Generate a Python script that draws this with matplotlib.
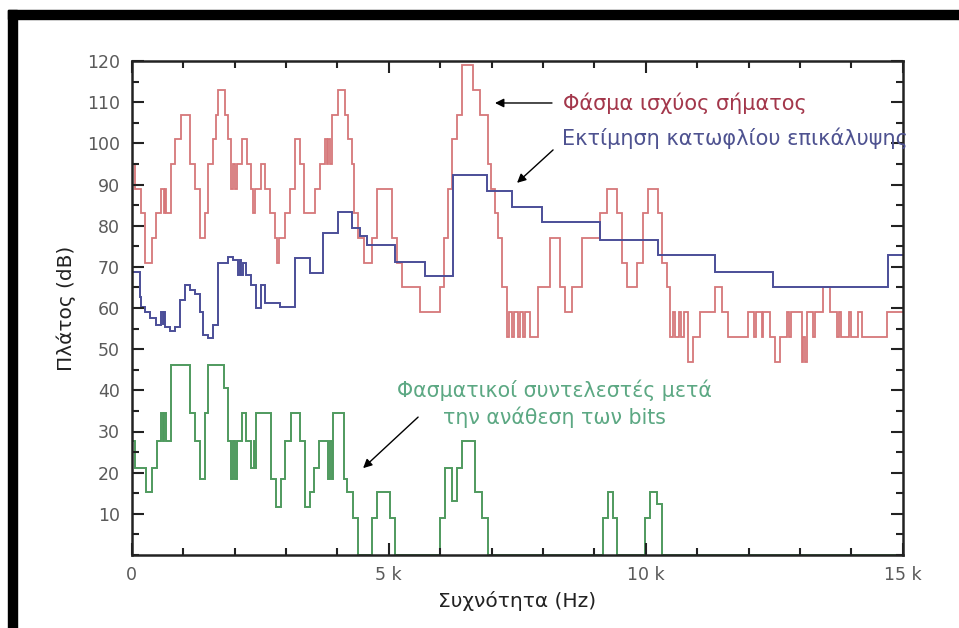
import matplotlib
matplotlib.use("Agg")
import matplotlib.pyplot as plt
from matplotlib.patches import Rectangle
from matplotlib.ticker import MultipleLocator, FixedLocator

# --- DATA (step start frequency in Hz, level in dB) ---
RED_HZ = [0, 71, 174, 265, 395, 479, 577, 620, 640, 674, 758, 836, 953, 1128, 1225,
          1322, 1432, 1484, 1582, 1647, 1679, 1809, 1874, 1938, 1980, 2010, 2055,
          2152, 2243, 2327, 2360, 2400, 2523, 2600, 2684, 2781, 2834, 2870, 2989,
          3080, 3177, 3268, 3352, 3560, 3657, 3754, 3790, 3820, 3850, 3890, 4020,
          4150, 4202, 4280, 4332, 4410, 4526, 4669, 4767, 5058, 5156, 5253, 5610,
          6000, 6084, 6161, 6239, 6323, 6433, 6647, 6777, 6926, 6991, 7069, 7134,
          7199, 7296, 7340, 7400, 7440, 7510, 7550, 7620, 7660, 7750, 7911,
          8138, 8333, 8430, 8560, 8754, 9111, 9241, 9436, 9533, 9630, 9825, 9955,
          10052, 10247, 10312, 10409, 10474, 10530, 10570, 10640, 10680, 10750,
          10830, 10927, 11057, 11350, 11478, 11608, 11990, 12110, 12140, 12260,
          12290, 12410, 12516, 12613, 12743, 12790, 12830, 13035, 13070, 13100,
          13132, 13250, 13290, 13456, 13586, 13716, 13760, 13800, 13950, 13990,
          14137, 14202, 14688]
RED_DB = [95, 89, 83, 71, 77, 83, 89, 83, 89, 83, 95, 101, 107, 95, 89,
          77, 83, 95, 101, 107, 113, 107, 101, 89, 95, 89, 95,
          101, 95, 89, 83, 89, 95, 89, 83, 77, 71, 77, 83,
          89, 101, 95, 83, 89, 95, 101, 95, 101, 95, 107, 113,
          107, 101, 95, 83, 77, 71, 77, 89, 77, 71, 65, 59,
          65, 77, 89, 101, 107, 119, 113, 107, 95, 89, 83, 77,
          65, 53, 59, 53, 59, 53, 59, 53, 59, 53, 65,
          77, 65, 59, 65, 77, 83, 89, 83, 71, 65, 71, 83,
          89, 83, 71, 65, 53, 59, 53, 59, 53, 59,
          47, 53, 59, 65, 59, 53, 59, 53, 59, 53,
          59, 53, 47, 53, 59, 53, 59, 47, 53, 47,
          59, 53, 59, 65, 59, 53, 59, 53, 59, 53,
          59, 53, 59]

BLUE_HZ = [0, 155, 188, 253, 350, 479, 577, 610, 625, 642, 739, 836, 934, 1031,
           1128, 1225, 1322, 1387, 1484, 1582, 1679, 1874, 1971, 2068, 2100, 2130,
           2165, 2230, 2327, 2425, 2523, 2588, 2879, 3171, 3463, 3722, 4020, 4280,
           4440, 4571, 5122, 5707, 6258, 6906, 7393, 7977, 9112, 10247, 11349,
           12484, 14721]
BLUE_DB = [68.8, 62.7, 60.3, 59.1, 57.5, 55.9, 59.0, 56.0, 59.0, 55.5, 54.3, 55.5,
           61.9, 65.5, 64.3, 63.5, 59.1, 53.5, 52.7, 55.9, 70.9, 72.5, 71.7, 68.0,
           71.7, 68.0, 70.9, 68.0, 65.5, 59.9, 65.5, 61.1, 60.3, 72.1, 68.5, 78.2,
           83.4, 79.5, 77.5, 75.3, 71.2, 67.8, 92.4, 88.3, 84.6, 81.0, 76.5, 72.8,
           68.8, 65.2, 72.8]

GREEN_HZ = [0, 58, 285, 395, 499, 577, 610, 630, 674, 758, 1128, 1225, 1322, 1432,
            1484, 1796, 1874, 1938, 1980, 2010, 2055, 2146, 2230, 2327, 2370, 2400,
            2425, 2716, 2814, 2898, 2989, 3106, 3268, 3365, 3462, 3547, 3637, 3825,
            3860, 3890, 3923, 4130, 4182, 4312, 4410, 4669, 4767, 5026, 5123, 6000,
            6096, 6226, 6323, 6420, 6680, 6810, 6939, 9177, 9274, 9371, 9436, 9987,
            10084, 10214, 10312]
GREEN_DB = [27.7, 21.1, 15.2, 21.1, 27.7, 34.4, 27.7, 34.4, 27.7, 46.1, 34.4, 27.7,
            18.5, 34.4, 46.1, 40.5, 27.7, 18.5, 27.7, 18.5, 27.7, 34.4, 27.7, 21.1,
            27.7, 21.1, 34.4, 18.5, 11.7, 18.5, 27.7, 34.4, 27.7, 11.7, 15.2, 21.1,
            27.7, 18.5, 27.7, 18.5, 34.4, 18.5, 15.2, 8.9, 0, 8.9, 15.2, 8.9, 0, 8.9,
            21.1, 13.0, 21.1, 27.7, 15.2, 8.9, 0, 8.9, 15.2, 8.9, 0, 8.9, 15.2, 12.5,
            0]

F_MAX = 15000
X_TICKS = [0, 5000, 10000, 15000]
X_TICK_LABELS = ["0", "5 k", "10 k", "15 k"]
Y_TICKS = list(range(10, 121, 10))

RED_LINE = "#d6777a"
BLUE_LINE = "#4b4e98"
GREEN_LINE = "#4f9a5e"
RED_TEXT = "#a3374b"
BLUE_TEXT = "#4e5290"
GREEN_TEXT = "#5ca883"

plt.rcParams["font.family"] = ["DejaVu Sans"]

fig = plt.figure(figsize=(9.59, 6.28), dpi=100)
ax = fig.add_axes([131.7 / 959, 73 / 628, 771 / 959, 494 / 628])

# black frame (top and left) of the original screenshot
fig.patches.append(Rectangle((8 / 959, 0), 9 / 959, 618 / 628, transform=fig.transFigure,
                             color="black", zorder=0))
fig.patches.append(Rectangle((8 / 959, 609 / 628), 951 / 959, 9 / 628, transform=fig.transFigure,
                             color="black", zorder=0))

ax.stairs(RED_DB, RED_HZ + [F_MAX], baseline=None, color=RED_LINE, lw=1.3)
ax.stairs(BLUE_DB, BLUE_HZ + [F_MAX], baseline=None, color=BLUE_LINE, lw=1.4)
ax.stairs(GREEN_DB, GREEN_HZ + [F_MAX], baseline=None, color=GREEN_LINE, lw=1.4, clip_on=False)

ax.set_xlim(0, F_MAX)
ax.set_ylim(0, 120)

ax.xaxis.set_major_locator(FixedLocator(X_TICKS))
ax.set_xticklabels(X_TICK_LABELS)
ax.xaxis.set_minor_locator(MultipleLocator(1000))
ax.yaxis.set_major_locator(FixedLocator(Y_TICKS))
ax.yaxis.set_minor_locator(MultipleLocator(5))

ax.tick_params(which="both", direction="in", top=True, right=True, color="#222222", width=1.5)
ax.tick_params(which="major", length=8.5)
ax.tick_params(which="minor", length=5)
ax.tick_params(axis="x", which="major", pad=8, labelsize=12.5, labelcolor="#5a5a5a")
ax.tick_params(axis="y", which="major", pad=8.5, labelsize=12.5, labelcolor="#5a5a5a")
for s in ax.spines.values():
    s.set_linewidth(1.8)
    s.set_color("#222222")

ax.set_xlabel("Συχνότητα (Hz)", fontsize=14.5, color="#222222", labelpad=5)
ax.set_ylabel("Πλάτος (dB)", fontsize=14.5, color="#222222", labelpad=8)

arrow = dict(arrowstyle="-|>", color="black", lw=1.0, mutation_scale=13, shrinkA=0, shrinkB=0)

ax.annotate("", xy=(7068, 109.8), xytext=(8177, 109.8), arrowprops=arrow)
ax.text(8393, 109.8, "Φάσμα ισχύος σήματος", color=RED_TEXT, fontsize=15,
        ha="left", va="center")

ax.annotate("", xy=(7497, 90.4), xytext=(8198, 98.4), arrowprops=arrow)
ax.text(8374, 101.3, "Εκτίμηση κατωφλίου επικάλυψης", color=BLUE_TEXT, fontsize=15,
        ha="left", va="center")

ax.annotate("", xy=(4502, 21.1), xytext=(5572, 33.5), arrowprops=arrow)
ax.text(8216, 40.1, "Φασματικοί συντελεστές μετά", color=GREEN_TEXT, fontsize=14.8,
        ha="center", va="center")
ax.text(8216, 33.5, "την ανάθεση των bits", color=GREEN_TEXT, fontsize=14.8,
        ha="center", va="center")

fig.savefig("out.png", dpi=100)
